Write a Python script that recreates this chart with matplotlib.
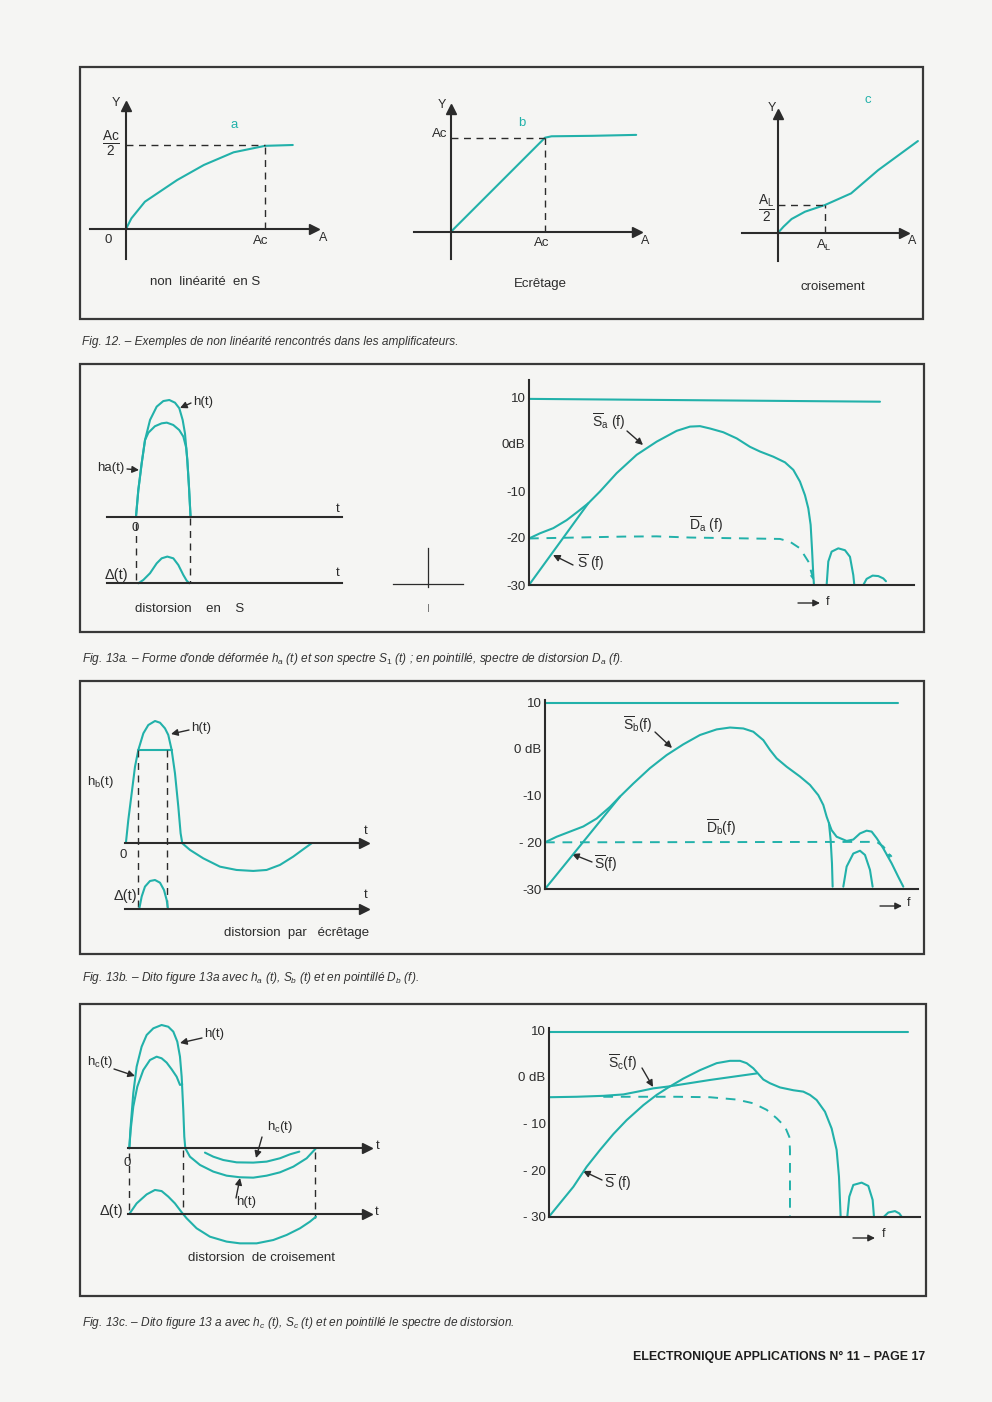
import matplotlib
matplotlib.use("Agg")
import matplotlib.pyplot as plt
from matplotlib.patches import Rectangle

plt.rcParams['font.family'] = ['Liberation Sans', 'DejaVu Sans']
plt.rcParams['mathtext.fontset'] = 'custom'
plt.rcParams['mathtext.rm'] = 'Liberation Sans'
plt.rcParams['mathtext.it'] = 'Liberation Sans:italic'
plt.rcParams['mathtext.bf'] = 'Liberation Sans:bold'

W, H = 992, 1402
TEAL = "#22b1aa"
INK = "#2b2b2b"
PAPER = "#f5f5f3"
LAB = 9.5    # label size
CAP = 8.6    # caption size

# ---------------- Fig 12 : transfer curves ----------------
# a : S non linearity (A in units of Ac, Y in units of Ac/2)
a_A = [0, 0.039, 0.136, 0.368, 0.56, 0.774, 1.0, 1.2]
a_Y = [0, 0.127, 0.325, 0.583, 0.762, 0.913, 0.99, 1.0]
# b : clipping (units of Ac)
b_A = [0, 1.0, 1.07, 1.5, 1.97]
b_Y = [0, 1.0, 1.015, 1.02, 1.03]
# c : crossover (A in units of AL, Y in units of AL/2)
c_A = [0, 0.124, 0.295, 0.578, 1.0, 1.55, 2.12, 2.96]
c_Y = [0, 0.233, 0.505, 0.763, 1.0, 1.41, 2.23, 3.26]

# ---------------- Fig 13a ----------------
h13a_t = [0, 0.43, 1.05, 1.67, 2.6, 3.83, 5.06, 6.17, 7.22, 8.02, 8.64, 9.07, 9.5, 9.81, 10.1]
h13a_v = [0, 2.29, 4.57, 6.57, 8.29, 9.43, 9.91, 10.0, 9.77, 9.29, 8.29, 7.14, 4.86, 2.57, 0]
ha_t = [0, 0.43, 1.05, 1.67, 2.3, 3.5, 4.75, 5.7, 6.9, 8.0, 8.77, 9.3, 9.5, 9.81, 10.1]
ha_v = [0, 2.29, 4.57, 6.57, 7.2, 7.75, 8.0, 8.06, 7.86, 7.43, 6.86, 5.9, 4.86, 2.57, 0]
da_t = [0.43, 1.36, 2.59, 3.83, 4.75, 5.8, 6.91, 7.84, 8.77, 9.38, 9.88]
da_v = [0, 0.29, 0.86, 1.71, 2.14, 2.29, 2.14, 1.57, 0.71, 0.23, 0]

top_a_f = [0, 10.53]
top_a_db = [9.6, 9.0]
sa_f = [0, 0.33, 0.73, 1.13, 1.48, 1.78, 2.13, 2.63, 3.23, 3.83, 4.43, 4.83, 5.13, 5.43,
        5.83, 6.23, 6.63, 6.93, 7.33, 7.68, 7.93, 8.13, 8.28, 8.38, 8.45, 8.49, 8.53, 8.55]
sa_db = [-20.1, -19.0, -17.9, -16.2, -14.3, -12.6, -10.1, -6.2, -2.3, 0.5, 2.8, 3.7, 3.8, 3.3,
         2.5, 1.2, -0.6, -1.6, -2.7, -3.9, -5.5, -8.0, -10.9, -13.7, -17.2, -22.2, -27.9, -30]
s_a_f = [0, 1.78]
s_a_db = [-30, -12.6]
lob1_a_f = [8.93, 8.98, 9.08, 9.28, 9.48, 9.63, 9.73, 9.76]
lob1_a_db = [-30, -25.0, -22.9, -22.2, -22.6, -24.0, -27.9, -30]
lob2_a_f = [10.03, 10.13, 10.31, 10.48, 10.63, 10.71]
lob2_a_db = [-30, -28.7, -28.0, -28.1, -28.6, -29.2]
dsa_f = [0, 2.83, 3.83, 4.83, 7.53, 7.83, 8.13, 8.38, 8.48, 8.53]
dsa_db = [-20.1, -19.7, -19.65, -19.9, -20.2, -20.8, -22.2, -25.0, -27.5, -28.6]

# ---------------- Fig 13b ----------------
h13b_t = [0, 0.41, 1.01, 1.60, 2.19, 3.08, 3.96, 5.15, 6.04, 6.92, 7.51, 8.11, 8.70, 9.29, 9.70,
          10.0, 11.36, 13.73, 16.69, 19.64, 22.60, 24.97, 27.34, 29.70, 31.48, 32.96]
h13b_v = [0.1, 1.91, 4.09, 6.27, 7.63, 8.99, 9.67, 10.0, 9.86, 9.40, 8.86, 7.63, 5.72, 3.0, 0.82,
          0, -0.54, -1.23, -1.91, -2.18, -2.26, -2.18, -1.77, -1.09, -0.49, 0]
clip_level = 7.63
clip_t = [2.19, 8.11]
db_t = [2.37, 2.78, 3.37, 4.26, 5.15, 6.04, 6.75, 7.22, 7.46]
db_v = [0.05, 1.01, 1.83, 2.29, 2.37, 2.15, 1.55, 0.74, 0]

top_b_f = [0, 10.6]
top_b_db = [9.8, 9.8]
sb_f = [0, 0.35, 0.75, 1.15, 1.55, 1.95, 2.25, 2.65, 3.15, 3.65, 4.15, 4.65, 5.15, 5.55, 5.95,
        6.25, 6.55, 6.75, 6.95, 7.25, 7.65, 7.95, 8.20, 8.35, 8.45, 8.52]
sb_db = [-20.0, -18.8, -17.7, -16.6, -14.9, -12.4, -10.2, -7.4, -4.1, -1.3, 1.0, 3.0, 4.2, 4.6,
         4.4, 3.7, 1.9, -0.2, -2.0, -3.8, -5.9, -7.7, -9.9, -12.0, -14.5, -15.9]
sb_down_f = [8.52, 8.57, 8.61, 8.63]
sb_down_db = [-15.9, -19.5, -24.5, -29.5]
sb_tail_f = [8.52, 8.6, 8.75, 9.05, 9.25, 9.45, 9.65, 9.8, 9.95, 10.15, 10.4, 10.6, 10.75]
sb_tail_db = [-15.9, -17.4, -18.8, -19.7, -19.4, -18.1, -17.5, -17.7, -19.1, -21.3, -24.5, -27.4, -29.5]
lob_b_f = [8.95, 9.05, 9.25, 9.45, 9.6, 9.75, 9.83]
lob_b_db = [-29.5, -25.2, -22.4, -21.8, -22.7, -25.9, -29.5]
s_b_f = [0, 2.25]
s_b_db = [-30, -10.2]
dsb_f = [0, 9.95, 10.15, 10.4]
dsb_db = [-20.0, -19.9, -20.9, -23.1]

# ---------------- Fig 13c ----------------
h13c_t = [0, 0.24, 0.71, 1.31, 2.20, 3.10, 4.29, 5.77, 6.96, 7.86, 8.57, 9.05, 9.35, 9.64, 9.82,
          10.0, 10.83, 12.62, 15.0, 17.38, 19.76, 22.14, 24.52, 26.9, 29.29, 31.67, 33.33]
h13c_v = [0, 1.76, 4.46, 6.62, 8.24, 9.19, 9.73, 10.0, 9.86, 9.46, 8.65, 7.43, 5.81, 3.11, 0.95,
          0, -0.68, -1.35, -1.89, -2.22, -2.35, -2.38, -2.22, -1.95, -1.49, -0.81, 0]
hc_t = [0, 0.24, 0.71, 1.43, 2.5, 3.69, 4.88, 5.77, 6.67, 7.56, 8.45, 9.05, 9.45]
hc_v = [0, 1.49, 3.38, 5.0, 6.35, 7.16, 7.43, 7.30, 6.95, 6.41, 5.81, 5.14, 5.2]
hc_neg_t = [13.51, 15.0, 16.79, 19.17, 22.14, 24.52, 26.9, 28.69, 30.36]
hc_neg_v = [-0.35, -0.68, -0.95, -1.14, -1.16, -1.08, -0.81, -0.49, -0.27]
dc_t = [0, 1.31, 3.10, 4.58, 5.77, 6.96, 8.15, 9.35, 10.24, 12.02, 14.40, 17.38, 19.76,
        22.74, 25.71, 28.10, 30.48, 32.26, 33.33]
dc_v = [0, 0.86, 1.59, 1.95, 1.86, 1.41, 0.86, 0.14, -0.35, -1.16, -1.84, -2.24, -2.38,
        -2.38, -2.11, -1.70, -1.16, -0.62, -0.22]

top_c_f = [0, 10.78]
top_c_db = [9.64, 9.64]
s_c_f = [0, 0.33, 0.73, 1.13, 1.53, 1.93, 2.33, 2.83, 3.23, 3.58, 4.03, 4.53, 5.03, 5.43, 5.73,
         5.93, 6.13, 6.28, 6.43, 6.63, 6.93, 7.33, 7.63, 7.83, 8.03, 8.28, 8.48, 8.63, 8.70, 8.75]
s_c_db = [-30, -27.1, -23.6, -19.3, -15.7, -12.3, -9.3, -6.1, -3.9, -2.3, -0.4, 1.4, 2.9, 3.4, 3.4,
          2.9, 1.8, 0.6, -0.6, -1.4, -2.3, -2.9, -3.2, -3.9, -5.0, -7.5, -11.1, -15.7, -21.4, -30]
sc_f = [0, 0.83, 1.63, 2.23, 2.73, 3.13, 3.58, 4.83, 6.23]
sc_db = [-4.4, -4.3, -4.1, -3.8, -3.1, -2.5, -2.1, -0.7, 0.7]
dsc_f = [1.63, 3.83, 4.83, 5.63, 6.13, 6.53, 6.83, 7.08, 7.21, 7.23, 7.23]
dsc_db = [-4.3, -4.3, -4.4, -4.9, -5.7, -7.1, -8.9, -10.7, -12.9, -15.7, -30]
lob1_c_f = [8.95, 9.01, 9.13, 9.38, 9.58, 9.71, 9.75]
lob1_c_db = [-30, -25.7, -23.2, -22.7, -23.4, -26.4, -30]
lob2_c_f = [10.05, 10.18, 10.38, 10.51, 10.58]
lob2_c_db = [-30, -29.1, -28.8, -29.3, -30]

db_ticks = [10, 0, -10, -20, -30]

fig = plt.figure(figsize=(W / 100, H / 100), dpi=100, facecolor=PAPER)
page = fig.add_axes([0, 0, 1, 1])
page.set_xlim(0, W)
page.set_ylim(H, 0)
page.axis('off')


def panel(box, origin, sx, sy):
    x0, y0, x1, y1 = box
    ox, oy = origin
    ax = fig.add_axes([x0 / W, 1 - y1 / H, (x1 - x0) / W, (y1 - y0) / H])
    ax.set_xlim((x0 - ox) / sx, (x1 - ox) / sx)
    ax.set_ylim((oy - y1) / sy, (oy - y0) / sy)
    ax.patch.set_visible(False)
    ax.set_xticks([])
    ax.set_yticks([])
    for s in ax.spines.values():
        s.set_visible(False)
    return ax


def axis_lines(ax, left=True, zero=True, arrow_x=True, arrow_y=True):
    b = ax.spines['bottom']
    b.set_visible(True)
    b.set_color(INK)
    b.set_linewidth(1.5)
    if zero:
        b.set_position(('data', 0))
    if left:
        l = ax.spines['left']
        l.set_visible(True)
        l.set_color(INK)
        l.set_linewidth(1.5)
        if zero:
            l.set_position(('data', 0))
    if arrow_x:
        ax.plot(1, 0, '>', color=INK, ms=6.5, transform=ax.get_yaxis_transform(), clip_on=False)
    if arrow_y:
        ax.plot(0, 1, '^', color=INK, ms=6.5, transform=ax.get_xaxis_transform(), clip_on=False)


def curve(ax, x, y, **kw):
    ax.plot(x, y, color=TEAL, lw=1.5, clip_on=False, solid_capstyle='round', **kw)


def dashed(ax, x, y, color=INK, lw=1.0):
    ax.plot(x, y, color=color, lw=lw, linestyle=(0, (5, 4)), clip_on=False)


def txt(x, y, s, size=LAB, **kw):
    kw.setdefault('ha', 'center')
    kw.setdefault('va', 'center')
    kw.setdefault('color', INK)
    page.text(x, y, s, fontsize=size, **kw)


def pointer(x0, y0, x1, y1):
    page.annotate('', xy=(x1, y1), xytext=(x0, y0),
                  arrowprops=dict(arrowstyle='-|>', color=INK, lw=1.0,
                                  mutation_scale=10, shrinkA=0, shrinkB=0))


def ov(letter, sub='', gap=False):
    s = r'$\overline{\mathrm{%s}}' % letter
    if sub:
        s += r'_{\mathrm{%s}}' % sub
    if gap:
        s += r'\ '
    return s + r'\mathrm{(f)}$'


def spectrum(ax, labels):
    ax.spines['left'].set_visible(True)
    ax.spines['bottom'].set_visible(True)
    for k in ('left', 'bottom'):
        ax.spines[k].set_color(INK)
        ax.spines[k].set_linewidth(1.5)
    ax.set_yticks(db_ticks, labels)
    ax.tick_params(axis='y', length=0, pad=2.5, labelsize=9.5, labelcolor=INK)


def caption(y, s):
    txt(82, y, s, CAP, ha='left', style='italic', color='#333333')


# page frames
for (x0, y0, x1, y1) in [(80, 67, 923, 319), (80, 364, 924, 632),
                         (80, 681, 924, 954), (80, 1004, 926, 1296)]:
    page.add_patch(Rectangle((x0, y0), x1 - x0, y1 - y0, fill=False,
                             edgecolor='#383838', lw=1.6))

# ---------- Fig 12 ----------
ax = panel((90, 106, 314, 259), (126, 229), 139, 84)
axis_lines(ax)
curve(ax, a_A, a_Y)
dashed(ax, [0, a_A[6]], [a_Y[-1], a_Y[-1]])
dashed(ax, [a_A[6], a_A[6]], [0, a_Y[-1]])

ax = panel((414, 109, 637, 259), (451, 231.7), 94, 94)
axis_lines(ax)
curve(ax, b_A, b_Y)
dashed(ax, [0, b_A[1]], [b_Y[1], b_Y[1]])
dashed(ax, [b_A[1], b_A[1]], [0, b_Y[1]])

ax = panel((742, 114, 904, 261), (777.6, 233.3), 47.4, 28.3)
axis_lines(ax)
curve(ax, c_A, c_Y)
dashed(ax, [0, c_A[4]], [c_Y[4], c_Y[4]])
dashed(ax, [c_A[4], c_A[4]], [0, c_Y[4]])

txt(116, 103, 'Y', 9)
txt(442, 105, 'Y', 9)
txt(772, 108, 'Y', 9)
txt(111, 144, r'$\frac{\mathrm{Ac}}{2}$', 14)
txt(108, 240, '0', LAB)
txt(261, 241, 'Ac', LAB)
txt(323, 238, 'A', 9)
txt(234, 125, 'a', LAB, color=TEAL)
txt(522, 123, 'b', LAB, color=TEAL)
txt(868, 100, 'c', LAB, color=TEAL)
txt(440, 134, 'Ac', LAB)
txt(542, 243, 'Ac', LAB)
txt(645, 241, 'A', 9)
txt(766, 209, r'$\frac{\mathrm{A_L}}{2}$', 14)
txt(824, 245, r'A$_\mathrm{L}$', LAB)
txt(912, 241, 'A', 9)
txt(205, 282, 'non  linéarité  en S', LAB)
txt(540, 284, 'Ecrêtage', LAB)
txt(833, 287, 'croisement', LAB)
caption(342, 'Fig. 12. – Exemples de non linéarité rencontrés dans les amplificateurs.')

# ---------- Fig 13a ----------
ax = panel((106.7, 390, 341.7, 516.7), (136, 516.7), 5.4, 11.67)
axis_lines(ax, left=False, arrow_x=False, arrow_y=False)
curve(ax, h13a_t, h13a_v)
curve(ax, ha_t, ha_v)
gap_a = 5.71
dashed(ax, [0, 0], [-0.55, -gap_a + 0.15])
dashed(ax, [h13a_t[-1] - 0.1, h13a_t[-1] - 0.1], [-0.1, -gap_a])

ax = panel((106.7, 540, 341.7, 583.3), (136, 583.3), 5.4, 11.67)
axis_lines(ax, left=False, arrow_x=False, arrow_y=False)
curve(ax, da_t, da_v)

ax = panel((529, 380, 914, 585), (529, 444), 33.33, 4.7)
spectrum(ax, ['10', '0dB', '-10', '-20', '-30'])
curve(ax, top_a_f, top_a_db)
curve(ax, sa_f, sa_db)
curve(ax, s_a_f, s_a_db)
curve(ax, lob1_a_f, lob1_a_db)
curve(ax, lob2_a_f, lob2_a_db)
dashed(ax, dsa_f, dsa_db, color=TEAL, lw=1.4)
ax.annotate('', xy=(dsa_f[-1], dsa_db[-1] - 0.8), xytext=(dsa_f[-2], dsa_db[-2]),
            arrowprops=dict(arrowstyle='-|>', color=TEAL, lw=0, mutation_scale=8))

txt(203, 402, 'h(t)')
pointer(191, 403, 180, 408)
txt(111, 468, 'ha(t)')
pointer(127, 469, 139, 470)
txt(338, 509, 't')
txt(135, 528, '0')
txt(116, 575, 'Δ(t)', 10.5)
txt(338, 573, 't')
txt(190, 609, 'distorsion    en    S')
txt(609, 422, ov('S', 'a', True), 10)
pointer(627, 431, 643, 445)
txt(591, 563, ov('S', '', True), 10)
pointer(573, 565, 553, 555)
txt(706, 525, ov('D', 'a', True), 10)
pointer(798, 603, 820, 603)
txt(828, 602, 'f', 9)
# stray construction mark in the middle of the panel
page.plot([428, 428], [548, 587], color=INK, lw=0.9)
page.plot([393, 463], [584, 584], color=INK, lw=0.9)
page.plot([428, 428], [604, 611], color='#777777', lw=0.7)
caption(659, "Fig. 13a. – Forme d'onde déformée $h_a$ (t) et son spectre $S_1$ (t) ; "
        "en pointillé, spectre de distorsion $D_a$ (f).")

# ---------- Fig 13b ----------
ax = panel((125, 715, 364, 875), (126, 843.3), 5.63, 12.23)
axis_lines(ax, left=False, arrow_y=False)
curve(ax, h13b_t, h13b_v)
curve(ax, clip_t, [clip_level, clip_level])
gap_b = 5.37
dashed(ax, [clip_t[0], clip_t[0]], [clip_level, -gap_b])
dashed(ax, [db_t[-1] - 0.1, db_t[-1] - 0.1], [clip_level, -gap_b])

ax = panel((125, 870, 364, 912), (126, 909), 5.63, 12.23)
axis_lines(ax, left=False, arrow_y=False)
curve(ax, db_t, db_v)

ax = panel((545, 700, 918.3, 889), (545, 749), 33.33, 4.667)
spectrum(ax, ['10', '0 dB', '-10', '- 20', '-30'])
curve(ax, top_b_f, top_b_db)
curve(ax, sb_f, sb_db)
curve(ax, sb_down_f, sb_down_db)
curve(ax, sb_tail_f, sb_tail_db)
curve(ax, lob_b_f, lob_b_db)
curve(ax, s_b_f, s_b_db)
dashed(ax, dsb_f, dsb_db, color=TEAL, lw=1.4)
ax.annotate('', xy=(dsb_f[-1], dsb_db[-1] - 0.8), xytext=(dsb_f[-2], dsb_db[-2]),
            arrowprops=dict(arrowstyle='-|>', color=TEAL, lw=0, mutation_scale=8))

txt(201, 728, 'h(t)')
pointer(189, 730, 171, 734)
txt(100, 782, r'h$_\mathrm{b}$(t)')
txt(366, 831, 't')
txt(123, 855, '0')
txt(125, 896, 'Δ(t)', 10.5)
txt(366, 895, 't')
txt(297, 933, 'distorsion  par   écrêtage')
txt(638, 725, ov('S', 'b'), 10)
pointer(655, 732, 672, 748)
txt(606, 864, ov('S'), 10)
pointer(592, 862, 572, 854)
txt(721, 828, ov('D', 'b'), 10)
pointer(880, 906, 902, 906)
txt(909, 903, 'f', 9)
caption(978, 'Fig. 13b. – Dito figure 13a avec $h_a$ (t), $S_b$ (t) et en pointillé $D_b$ (f).')

# ---------- Fig 13c ----------
ax = panel((128.3, 1015, 367, 1182), (129.3, 1148.3), 5.6, 12.33)
axis_lines(ax, left=False, arrow_y=False)
curve(ax, h13c_t, h13c_v)
curve(ax, hc_t, hc_v)
curve(ax, hc_neg_t, hc_neg_v)
gap_c = 5.33
dashed(ax, [0, 0], [-0.4, -gap_c + 0.3])
dashed(ax, [9.64, 9.64], [-0.15, -gap_c + 0.1])
dashed(ax, [h13c_t[-1] - 0.2, h13c_t[-1] - 0.2], [-0.3, -gap_c - 0.3])

ax = panel((128.3, 1180, 367, 1250), (129.3, 1214), 5.6, 12.33)
axis_lines(ax, left=False, arrow_y=False)
curve(ax, dc_t, dc_v)

ax = panel((549, 1028.3, 920, 1216.7), (549, 1076.7), 33.33, 4.667)
spectrum(ax, ['10', '0 dB', '- 10', '- 20', '- 30'])
curve(ax, top_c_f, top_c_db)
curve(ax, s_c_f, s_c_db)
curve(ax, sc_f, sc_db)
curve(ax, lob1_c_f, lob1_c_db)
curve(ax, lob2_c_f, lob2_c_db)
dashed(ax, dsc_f, dsc_db, color=TEAL, lw=1.4)

txt(214, 1034, 'h(t)')
pointer(202, 1038, 180, 1043)
txt(100, 1062, r'h$_\mathrm{c}$(t)')
pointer(114, 1069, 135, 1076)
txt(280, 1127, r'h$_\mathrm{c}$(t)')
pointer(262, 1137, 256, 1158)
txt(246, 1202, 'h(t)')
pointer(236, 1198, 240, 1178)
txt(378, 1146, 't')
txt(127, 1163, '0')
txt(111, 1211, 'Δ(t)', 10.5)
txt(377, 1212, 't')
txt(262, 1258, 'distorsion  de croisement')
txt(622, 1063, ov('S', 'c'), 10)
pointer(642, 1068, 653, 1087)
txt(618, 1183, ov('S', '', True), 10)
pointer(602, 1180, 583, 1171)
pointer(853, 1238, 875, 1238)
txt(884, 1234, 'f', 9)
caption(1323, 'Fig. 13c. – Dito figure 13 a avec $h_c$ (t), $S_c$ (t) et en pointillé le spectre de distorsion.')

txt(925, 1357, 'ELECTRONIQUE APPLICATIONS N° 11 – PAGE 17', 8.9,
    ha='right', weight='bold', color='#1e1e1e')

fig.savefig('out.png', dpi=100, facecolor=PAPER)
